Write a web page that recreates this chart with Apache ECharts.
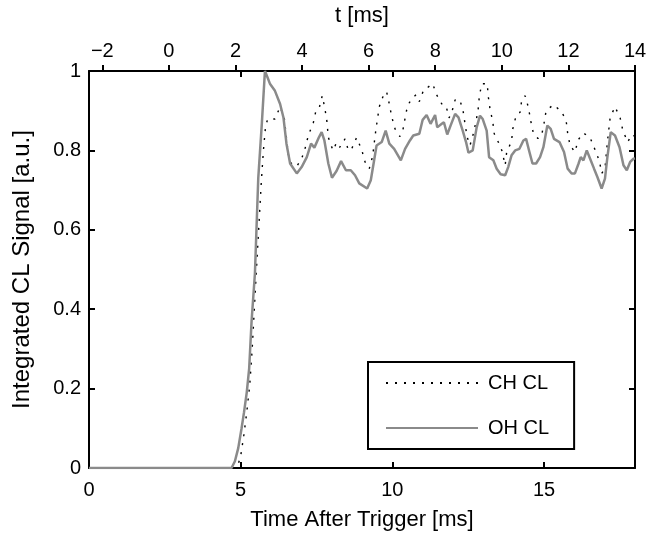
<!DOCTYPE html>
<html>
<head>
<meta charset="utf-8">
<title>CH / OH CL</title>
<style>
html,body{margin:0;padding:0;background:#fff;}
#main{width:659px;height:536px;}
</style>
</head>
<body>
<div id="main"></div>
<script src="https://cdn.jsdelivr.net/npm/echarts@6/dist/echarts.min.js"></script>
<script>
// CH CL (dotted black)
var chTime = [0, 4.85, 4.92, 5.00, 5.10, 5.20, 5.30, 5.38, 5.45, 5.52, 5.60, 5.68, 5.75, 5.82, 5.89, 6.13, 6.30, 6.44, 6.57, 6.68, 6.85, 7.01, 7.12, 7.23, 7.40, 7.47, 7.58, 7.69, 7.78, 7.84, 7.89, 7.98, 8.05, 8.16, 8.27, 8.33, 8.44, 8.55, 8.66, 8.82, 8.99, 9.10, 9.24, 9.35, 9.45, 9.51, 9.57, 9.70, 9.81, 9.90, 9.98, 10.09, 10.25, 10.34, 10.42, 10.50, 10.64, 10.78, 10.89, 11.04, 11.19, 11.33, 11.46, 11.63, 11.77, 11.87, 11.96, 12.07, 12.23, 12.34, 12.40, 12.47, 12.56, 12.67, 12.76, 12.83, 12.87, 12.95, 13.13, 13.16, 13.22, 13.31, 13.36, 13.50, 13.61, 13.72, 13.77, 13.93, 13.97, 14.08, 14.21, 14.27, 14.38, 14.49, 14.56, 14.65, 14.80, 14.92, 15.00, 15.07, 15.31, 15.58, 15.73, 15.78, 15.86, 16.02, 16.13, 16.30, 16.52, 16.68, 16.83, 16.90, 17.01, 17.09, 17.18, 17.34, 17.51, 17.60, 17.76, 17.89, 18.00];
var chValue = [0, 0, 0.01, 0.03, 0.08, 0.14, 0.21, 0.30, 0.40, 0.50, 0.61, 0.72, 0.80, 0.86, 0.879, 0.879, 0.91, 0.88, 0.79, 0.765, 0.76, 0.779, 0.804, 0.8375, 0.871, 0.896, 0.904, 0.9375, 0.904, 0.875, 0.833, 0.8125, 0.80, 0.82, 0.808, 0.808, 0.829, 0.80, 0.804, 0.832, 0.802, 0.771, 0.754, 0.785, 0.8475, 0.879, 0.91, 0.9375, 0.948, 0.917, 0.885, 0.854, 0.835, 0.848, 0.881, 0.9125, 0.93, 0.94, 0.923, 0.954, 0.96, 0.968, 0.94, 0.917, 0.9125, 0.882, 0.896, 0.927, 0.927, 0.896, 0.865, 0.833, 0.8125, 0.842, 0.873, 0.904, 0.9375, 0.968, 0.968, 0.9375, 0.904, 0.873, 0.842, 0.82, 0.80, 0.7625, 0.796, 0.8225, 0.854, 0.8875, 0.896, 0.929, 0.9375, 0.907, 0.875, 0.843, 0.83, 0.8375, 0.868, 0.90, 0.915, 0.8975, 0.875, 0.843, 0.8125, 0.796, 0.827, 0.844, 0.832, 0.802, 0.7725, 0.742, 0.754, 0.821, 0.882, 0.91, 0.882, 0.85, 0.821, 0.84, 0.835];

// OH CL (solid grey)
var ohTime = [0, 4.70, 4.81, 4.92, 5.03, 5.11, 5.20, 5.28, 5.36, 5.47, 5.58, 5.70, 5.80, 5.88, 5.97, 6.13, 6.30, 6.41, 6.51, 6.63, 6.85, 7.01, 7.18, 7.32, 7.43, 7.58, 7.67, 7.76, 7.89, 8.01, 8.16, 8.31, 8.47, 8.63, 8.77, 8.91, 9.17, 9.29, 9.40, 9.48, 9.65, 9.78, 9.90, 10.06, 10.28, 10.42, 10.58, 10.69, 10.89, 11.00, 11.13, 11.26, 11.41, 11.48, 11.63, 11.70, 11.81, 11.92, 12.07, 12.18, 12.32, 12.43, 12.51, 12.65, 12.78, 12.89, 12.98, 13.11, 13.19, 13.33, 13.44, 13.57, 13.72, 13.82, 13.93, 14.05, 14.19, 14.32, 14.41, 14.52, 14.62, 14.74, 14.87, 14.98, 15.11, 15.22, 15.33, 15.51, 15.66, 15.78, 15.91, 16.02, 16.14, 16.21, 16.30, 16.41, 16.52, 16.65, 16.76, 16.90, 17.01, 17.09, 17.20, 17.34, 17.49, 17.62, 17.73, 17.84, 17.95, 18.00];
var ohValue = [0, 0, 0.017, 0.05, 0.10, 0.14, 0.19, 0.25, 0.37, 0.49, 0.73, 0.87, 1.0, 0.985, 0.967, 0.95, 0.917, 0.883, 0.817, 0.767, 0.742, 0.758, 0.783, 0.817, 0.807, 0.833, 0.846, 0.825, 0.767, 0.731, 0.748, 0.773, 0.75, 0.75, 0.7375, 0.717, 0.704, 0.725, 0.775, 0.8125, 0.821, 0.85, 0.817, 0.804, 0.775, 0.804, 0.825, 0.8375, 0.842, 0.877, 0.889, 0.867, 0.889, 0.858, 0.867, 0.871, 0.84, 0.8625, 0.892, 0.883, 0.85, 0.821, 0.794, 0.80, 0.858, 0.8875, 0.879, 0.85, 0.783, 0.775, 0.754, 0.74, 0.7375, 0.758, 0.7875, 0.80, 0.804, 0.825, 0.829, 0.796, 0.767, 0.767, 0.783, 0.808, 0.8625, 0.854, 0.829, 0.821, 0.796, 0.754, 0.742, 0.742, 0.767, 0.783, 0.775, 0.80, 0.779, 0.754, 0.733, 0.704, 0.729, 0.783, 0.846, 0.8375, 0.808, 0.7625, 0.75, 0.771, 0.779, 0.78];

var bottomTicks = [0, 5, 10, 15];
var topTicks = [-2, 0, 2, 4, 6, 8, 10, 12, 14];
var yTicks = [0, 0.2, 0.4, 0.6, 0.8, 1];

function pairs(xs, ys) {
    var out = [];
    for (var i = 0; i < xs.length; i++) out.push([xs[i], ys[i]]);
    return out;
}

var font = 'Liberation Sans, Arial, Helvetica, sans-serif';
var black = '#000';
var tickFont = 20, nameFont = 22;

var option = {
    animation: false,
    backgroundColor: '#fff',
    textStyle: {fontFamily: font, color: black},
    grid: {left: 89, right: 24, top: 70, bottom: 66},
    legend: {
        orient: 'vertical',
        left: 368,
        top: 362,
        padding: [11, 25, 11, 17],
        backgroundColor: '#fff',
        borderColor: black,
        borderWidth: 2,
        itemWidth: 92,
        itemHeight: 20,
        itemGap: 25,
        itemStyle: {opacity: 0},
        textStyle: {fontFamily: font, fontSize: 20, color: black, padding: [0, 0, 0, 5]},
        data: ['CH CL', 'OH CL']
    },
    xAxis: [
        { // bottom
            type: 'value', position: 'bottom', min: 0, max: 18,
            name: 'Time After Trigger [ms]', nameLocation: 'middle', nameGap: 41,
            nameTextStyle: {fontFamily: font, fontSize: nameFont, color: black},
            axisLine: {onZero: false, lineStyle: {color: black, width: 2}},
            axisTick: {inside: true, length: 6, lineStyle: {color: black, width: 2}, customValues: bottomTicks},
            axisLabel: {fontFamily: font, fontSize: tickFont, color: black, margin: 12, customValues: bottomTicks},
            splitLine: {show: false}
        },
        { // top: t [ms]
            type: 'value', position: 'top', min: -2.4, max: 14,
            name: 't [ms]', nameLocation: 'middle', nameGap: 44,
            nameTextStyle: {fontFamily: font, fontSize: nameFont, color: black},
            axisLine: {onZero: false, lineStyle: {color: black, width: 2}},
            axisTick: {inside: false, length: 6, lineStyle: {color: black, width: 2}, customValues: topTicks},
            axisLabel: {fontFamily: font, fontSize: tickFont, color: black, margin: 10, customValues: topTicks,
                formatter: function (v) { return v < 0 ? '\u2212' + (-v) : String(v); }},
            splitLine: {show: false}
        },
        { // top mirror of bottom ticks
            type: 'value', position: 'top', min: 0, max: 18,
            axisLine: {show: false, onZero: false},
            axisTick: {inside: true, length: 6, lineStyle: {color: black, width: 2}, customValues: [5, 10, 15]},
            axisLabel: {show: false},
            splitLine: {show: false}
        }
    ],
    yAxis: [
        {
            type: 'value', position: 'left', min: 0, max: 1,
            name: 'Integrated CL Signal [a.u.]', nameLocation: 'middle', nameGap: 55,
            nameTextStyle: {fontFamily: font, fontSize: 24, color: black},
            axisLine: {onZero: false, lineStyle: {color: black, width: 2}},
            axisTick: {inside: true, length: 6, lineStyle: {color: black, width: 2}, customValues: yTicks},
            axisLabel: {fontFamily: font, fontSize: tickFont, color: black, margin: 8, customValues: yTicks},
            splitLine: {show: false}
        },
        {
            type: 'value', position: 'right', min: 0, max: 1,
            axisLine: {show: true, onZero: false, lineStyle: {color: black, width: 2}},
            axisTick: {show: true, inside: true, length: 6, lineStyle: {color: black, width: 2}, customValues: yTicks},
            axisLabel: {show: false},
            splitLine: {show: false}
        }
    ],
    series: [
        {
            name: 'CH CL', type: 'line', xAxisIndex: 0, yAxisIndex: 0,
            symbol: 'none', smooth: false,
            lineStyle: {color: black, width: 1.4, type: [2, 7]},
            itemStyle: {color: black},
            data: pairs(chTime, chValue)
        },
        {
            name: 'OH CL', type: 'line', xAxisIndex: 0, yAxisIndex: 0,
            symbol: 'none', smooth: false,
            lineStyle: {color: '#8a8a8a', width: 2.5},
            itemStyle: {color: '#8a8a8a'},
            data: pairs(ohTime, ohValue)
        }
    ]
};

var myChart = echarts.init(document.getElementById('main'), null, {renderer: 'canvas'});
myChart.setOption(option);
</script>
</body>
</html>
